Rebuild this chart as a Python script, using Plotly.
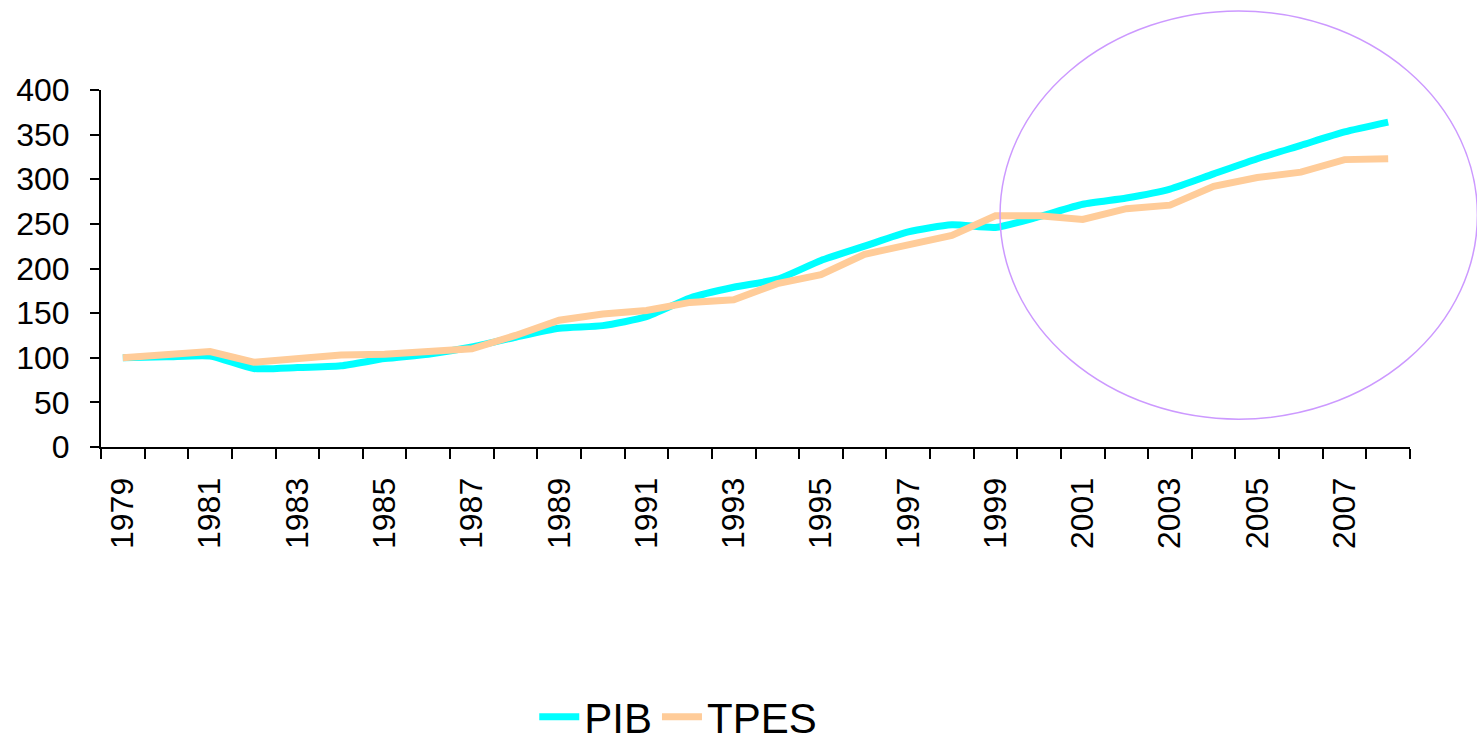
import plotly.graph_objects as go

# Index series (1979 = 100)
years = list(range(1979, 2009))
pib = [100, 101, 102, 88, 89, 91, 99, 104, 112, 123, 133, 136, 146, 167, 179, 188,
       209, 225, 241, 249, 246, 258, 272, 279, 289, 306, 323, 338, 353, 364]
tpes = [100, 103, 107, 95, 99, 103, 104, 107, 110, 125, 142, 149, 153, 162, 165, 183,
        193, 216, 226, 237, 259, 259, 255, 267, 271, 292, 302, 308, 322, 323]

year_labels = [str(y) for y in years[::2]]

FONT = "Liberation Sans, Arial, sans-serif"

fig = go.Figure()
fig.add_trace(go.Scatter(
    x=years, y=pib, name="PIB", mode="lines",
    line=dict(color="#00ffff", width=7, shape="spline", smoothing=0.6),
))
fig.add_trace(go.Scatter(
    x=years, y=tpes, name="TPES", mode="lines",
    line=dict(color="#ffcc99", width=7),
))

# highlight ring around the last decade
fig.add_shape(
    type="circle", xref="paper", yref="paper",
    x0=0.6868, x1=1.0515, y0=0.078, y1=1.2213,
    line=dict(color="#cc99ff", width=1.5),
)

fig.update_layout(
    width=1477, height=751,
    margin=dict(l=101, r=67, t=90, b=304, autoexpand=False),
    plot_bgcolor="white", paper_bgcolor="white",
    font=dict(family=FONT, color="black"),
    showlegend=True,
    legend=dict(
        orientation="h", x=0.441, xanchor="center",
        yref="container", y=-0.008, yanchor="bottom",
        font=dict(size=42, family=FONT, color="black"),
        itemwidth=40,
    ),
    xaxis=dict(
        range=[1978.5, 2008.5], automargin=False,
        tickvals=years[::2], ticktext=year_labels, tickangle=-90,
        ticks="", showgrid=False, zeroline=False,
        showline=True, linecolor="black", linewidth=2,
        tickfont=dict(size=32, family=FONT, color="black"),
        ticklabelstandoff=16,
        minor=dict(tick0=1978.5, dtick=1, ticks="outside", ticklen=10,
                   tickwidth=2, tickcolor="black", showgrid=False),
    ),
    yaxis=dict(
        range=[0, 400], tickvals=list(range(0, 401, 50)), automargin=False,
        ticks="outside", ticklen=9, tickwidth=2, tickcolor="black",
        showgrid=False, zeroline=False,
        showline=True, linecolor="black", linewidth=2,
        tickfont=dict(size=32, family=FONT, color="black"),
        ticklabelstandoff=14,
    ),
)

fig.write_html("out.html")
